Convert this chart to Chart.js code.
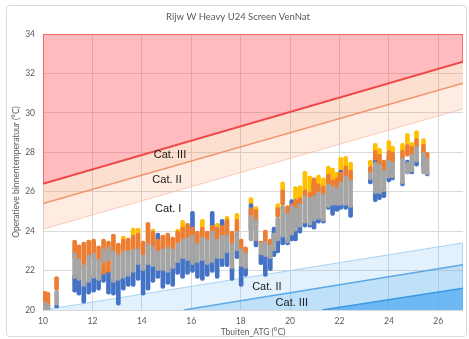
<!DOCTYPE html>
<html>
<head>
<meta charset="utf-8">
<script src="https://cdn.jsdelivr.net/npm/chart.js@4/dist/chart.umd.min.js"></script>
<style>
  body { margin: 0; background: #fff; }
  canvas { display: block; }
</style>
</head>
<body>
<canvas id="chart" width="469" height="339"></canvas>
<script>
// buitentemperatuur per meetkolom
const streakX = [10.08, 10.2, 10.55, 11.28, 11.45, 11.65, 11.85, 12.05, 12.25, 12.45, 12.65, 12.85, 13.05, 13.25, 13.45, 13.65, 13.85,
  14.05, 14.25, 14.45, 14.65, 14.85, 15.05, 15.25, 15.45, 15.65, 15.85, 16.05, 16.25, 16.45, 16.65, 16.85, 17.05, 17.25, 17.45,
  17.65, 17.85, 18.02, 18.2, 18.42, 18.62, 18.82, 19.0, 19.2, 19.35, 19.5, 19.7, 19.9, 20.07, 20.22, 20.4, 20.6, 20.8, 20.97,
  21.15, 21.35, 21.55, 21.72, 21.9, 22.05, 22.25, 22.45, 23.25, 23.45, 23.62, 23.8, 24.0, 24.15, 24.55, 24.75, 24.93, 25.12, 25.4, 25.55];

// min/max operatieve temperatuur per ruimte
const blueRange = [[20.0,20.1],[20.0,20.1],[20.1,20.3],[20.9,21.8],[20.75,21.6],[20.35,21.3],[20.8,21.5],[20.9,21.8],[21.0,21.6],[21.4,22.0],
  [20.8,22.0],[20.75,21.5],[20.25,21.6],[21.0,21.7],[21.2,21.8],[21.2,22.0],[21.5,22.4],[20.75,22.1],[21.0,22.4],[21.4,22.3],
  [21.6,23.9],[21.1,22.1],[21.3,22.0],[21.2,22.2],[21.8,22.5],[21.6,22.7],[21.8,22.6],[21.9,25.0],[21.6,22.5],[21.5,22.6],
  [21.7,22.4],[21.9,25.0],[21.6,22.7],[22.2,24.6],[22.2,23.0],[21.5,22.2],[22.6,23.1],[21.2,22.3],[21.7,22.2],[24.0,25.4],
  [23.2,23.6],[22.3,22.9],[21.7,22.8],[22.0,22.7],[22.7,24.2],[22.9,23.6],[23.3,23.8],[23.3,23.6],[23.5,25.6],[23.5,25.6],
  [23.9,24.3],[24.2,24.5],[24.2,24.4],[24.1,26.5],[24.4,24.7],[24.4,24.6],[25.1,25.3],[24.8,25.4],[25.0,25.4],[25.1,27.1],
  [25.1,25.4],[24.7,25.3],[26.4,26.7],[25.5,27.7],[25.6,26.0],[25.7,26.1],[26.5,27.8],[26.6,26.8],[26.3,26.5],[26.9,27.6],
  [26.9,27.1],[27.3,27.6],[27.2,28.0],[26.8,27.0]];
const grayRange = [[20.0,20.4],[20.0,20.3],[20.25,21.0],[21.6,22.9],[21.5,22.6],[21.2,22.3],[21.4,22.8],[21.6,22.9],[21.5,22.6],[22.4,23.1],
  [22.5,23.2],[21.4,23.0],[21.5,22.8],[21.6,23.0],[21.7,23.0],[21.9,23.1],[22.3,23.1],[22.0,22.8],[22.3,23.4],[22.2,23.2],
  [22.0,23.0],[22.0,23.1],[21.9,23.2],[22.1,23.1],[22.4,23.4],[22.6,23.6],[22.5,23.7],[22.3,23.8],[22.4,23.4],[22.5,23.7],
  [22.3,23.6],[22.4,24.0],[22.6,23.6],[22.6,23.8],[22.9,23.8],[22.1,23.4],[23.0,24.0],[22.2,23.1],[22.1,22.9],[23.5,24.8],
  [23.5,24.6],[22.8,23.4],[22.7,23.5],[22.6,23.3],[23.0,23.9],[23.5,24.7],[23.7,25.3],[23.4,24.9],[23.8,25.3],[24.0,25.2],
  [24.2,25.4],[24.4,25.8],[24.3,25.7],[24.5,25.8],[24.6,26.0],[24.5,25.9],[25.2,26.4],[25.3,26.3],[25.3,26.2],[25.3,26.5],
  [25.3,26.8],[25.2,26.6],[26.6,27.0],[25.9,27.5],[25.9,27.4],[26.0,27.1],[26.7,27.6],[26.7,27.5],[26.4,27.7],[26.9,27.5],
  [27.0,27.9],[27.5,28.3],[26.9,28.0],[26.85,27.7]];
const orangeRange = [[20.2,20.95],[20.1,20.9],[21.0,21.7],[22.6,23.55],[22.3,23.3],[22.0,23.45],[22.5,23.55],[22.6,23.6],[22.4,23.25],[21.8,23.6],
  [21.9,23.5],[22.9,23.85],[22.7,23.4],[22.9,23.6],[22.8,23.65],[23.0,23.8],[22.9,23.9],[22.7,23.5],[23.2,24.45],[23.0,24.0],
  [22.9,23.6],[23.0,23.8],[23.1,23.9],[23.0,23.7],[23.3,24.0],[23.5,24.2],[23.6,24.4],[23.5,24.2],[23.3,24.0],[23.6,24.2],
  [23.5,24.0],[23.7,24.3],[23.5,24.2],[23.6,24.3],[23.7,24.6],[23.3,24.0],[23.9,24.6],[23.0,23.6],[22.8,23.2],[24.0,25.2],
  [24.3,25.1],[23.3,23.5],[23.3,24.05],[23.2,23.6],[23.5,23.9],[24.7,25.2],[25.3,26.1],[24.8,25.3],[24.9,25.4],[25.0,25.6],
  [25.3,25.7],[25.7,26.1],[25.6,26.0],[25.8,26.7],[25.9,26.4],[25.8,26.3],[26.3,26.9],[26.2,26.6],[26.1,26.7],[26.4,27.0],
  [26.7,27.3],[26.5,27.1],[26.9,27.3],[27.6,28.1],[27.3,27.9],[27.0,27.6],[27.5,28.1],[27.4,28.0],[27.6,28.1],[27.8,28.4],
  [27.8,28.3],[28.2,28.7],[27.9,28.4],[27.6,28.0]];
const yellowRange = [null,null,null,null,null,null,null,null,null,null,
  null,null,null,[23.5,23.75],null,[23.7,24.15],[23.8,24.15],null,null,[23.9,24.1],
  null,null,null,null,[23.9,24.1],[24.1,24.55],null,null,null,[24.1,24.6],
  null,null,[24.1,24.4],[24.2,24.5],[24.5,24.75],null,[24.5,24.9],null,null,[25.3,25.7],
  [25.0,25.25],null,null,null,null,[25.0,25.4],[26.0,26.5],null,null,[25.6,26.26],
  [25.6,26.3],[26.0,27.05],[26.0,26.8],null,[26.3,26.85],[26.2,26.7],[26.8,27.3],[26.5,27.2],[26.6,27.0],[27.0,27.75],
  [27.2,27.8],[27.0,27.5],[27.3,27.6],[28.0,28.45],[27.8,28.2],null,[28.1,28.6],[27.9,28.3],[28.0,28.45],[28.4,28.95],
  [28.2,28.5],[28.6,29.1],[28.3,28.7],null];

// comfortgrenzen (x = Tbuiten, y = Top)
const upperCat3 = [[10, 26.4], [27, 32.6]];
const upperCat2 = [[10, 25.4], [27, 31.5]];
const upperCat1 = [[10, 24.1], [27, 30.2]];
const lowerCat1 = [[10, 20.0], [27, 23.4], [27, 20.0]];
const lowerCat2 = [[15.7, 20.0], [27, 22.3]];
const lowerCat3 = [[21.3, 20.0], [27, 21.1]];
const cat3Box = [[10, 26.4], [10, 34], [27, 34], [27, 32.6]];

const xTicks = [10, 12, 14, 16, 18, 20, 22, 24, 26];
const yTicks = [20, 22, 24, 26, 28, 30, 32, 34];

const pts = arr => arr.map(p => ({ x: p[0], y: p[1] }));
const ranges = arr => streakX.map((x, i) => arr[i] ? { x: x, y: arr[i] } : null).filter(Boolean);

function streak(color, data, order) {
    return {
        type: "bar", data: ranges(data), backgroundColor: color, borderWidth: 0,
        borderRadius: 2, borderSkipped: false, barThickness: 4, grouped: false, order: order
    };
}
function limit(data, line, width, fill, bg, order) {
    return {
        type: "line", data: pts(data), borderColor: line, borderWidth: width, pointRadius: 0,
        tension: 0, fill: fill, backgroundColor: bg, order: order
    };
}

const annotate = {
    id: "annotate",
    beforeDraw(chart) {
        const c = chart.ctx;
        c.save();
        c.fillStyle = "#fff";
        c.fillRect(0, 0, chart.width, chart.height);
        c.strokeStyle = "#d9d9d9";
        c.lineWidth = 1;
        c.beginPath();
        c.roundRect(6.5, 5.5, 460, 331, 3);
        c.stroke();
        c.restore();
    },
    afterDatasetsDraw(chart) {
        const c = chart.ctx, xs = chart.scales.x, ys = chart.scales.y;
        const labels = [["Cat. III", 15.14, 27.86], ["Cat. II", 15.02, 26.6], ["Cat. I", 15.07, 25.1],
                        ["Cat. II", 19.06, 21.18], ["Cat. III", 20.07, 20.34]];
        c.save();
        c.font = "11px 'Liberation Sans'";
        c.fillStyle = "#1a1a1a";
        c.textAlign = "center";
        c.textBaseline = "middle";
        labels.forEach(l => c.fillText(l[0], xs.getPixelForValue(l[1]), ys.getPixelForValue(l[2])));
        c.restore();
    },
    afterDraw(chart) {
        const c = chart.ctx, a = chart.chartArea;
        c.save();
        c.fillStyle = "#595959";
        c.textAlign = "center";
        c.textBaseline = "middle";
        c.font = "9.5px Lato";
        c.fillText("Rijw W Heavy U24 Screen VenNat", 238, 17);
        c.font = "8.5px Lato";
        c.fillText("Tbuiten_ATG (°C)", (a.left + a.right) / 2, 332);
        c.translate(16, (a.top + a.bottom) / 2);
        c.rotate(-Math.PI / 2);
        c.fillText("Operatieve binnentemperatuur (°C)", 0, 0);
        c.restore();
    }
};

const ctx = document.getElementById("chart");
new Chart(ctx, {
    type: "bar",
    data: {
        datasets: [
            streak("#a5a5a5", grayRange, 1),
            streak("#ed7d31", orangeRange, 2),
            streak("#4472c4", blueRange, 3),
            streak("#ffc000", yellowRange, 4),
            limit(upperCat3, "#ee4848", 2, "end", "rgba(255,60,70,0.35)", 11),
            limit(upperCat2, "rgba(240,140,95,0.9)", 1.5, { target: 4 }, "rgba(245,130,70,0.26)", 12),
            limit(upperCat1, "rgba(245,175,145,0.6)", 1, { target: 5 }, "rgba(245,130,70,0.15)", 13),
            limit(cat3Box, "rgba(238,72,72,0.85)", 1.5, false, "transparent", 10),
            limit(lowerCat3, "#3b98e4", 1.5, "start", "rgba(60,160,240,0.62)", 14),
            limit(lowerCat2, "#5aa8e6", 1.5, "start", "rgba(100,180,240,0.28)", 15),
            limit(lowerCat1, "#a6d2f3", 1, "start", "rgba(100,180,240,0.19)", 16)
        ]
    },
    options: {
        responsive: false,
        animation: false,
        events: [],
        layout: { padding: { top: 34, right: 6, left: 0, bottom: 0 } },
        plugins: { legend: { display: false }, tooltip: { enabled: false } },
        scales: {
            x: {
                type: "linear", min: 10, max: 27, offset: false,
                grid: { color: "#d9d9d9", offset: false, drawTicks: false },
                border: { display: false },
                ticks: { color: "#595959", font: { family: "Lato", size: 8.5 }, padding: 6, maxRotation: 0 },
                afterBuildTicks: s => { s.ticks = xTicks.map(v => ({ value: v })); },
                afterFit: s => { s.height = 29; }
            },
            y: {
                min: 20, max: 34,
                grid: { color: "#d9d9d9", drawTicks: false },
                border: { display: false },
                ticks: { color: "#595959", font: { family: "Lato", size: 8.5 }, padding: 8 },
                afterBuildTicks: s => { s.ticks = yTicks.map(v => ({ value: v })); },
                afterFit: s => { s.width = 43; }
            }
        }
    },
    plugins: [annotate]
});
</script>
</body>
</html>
